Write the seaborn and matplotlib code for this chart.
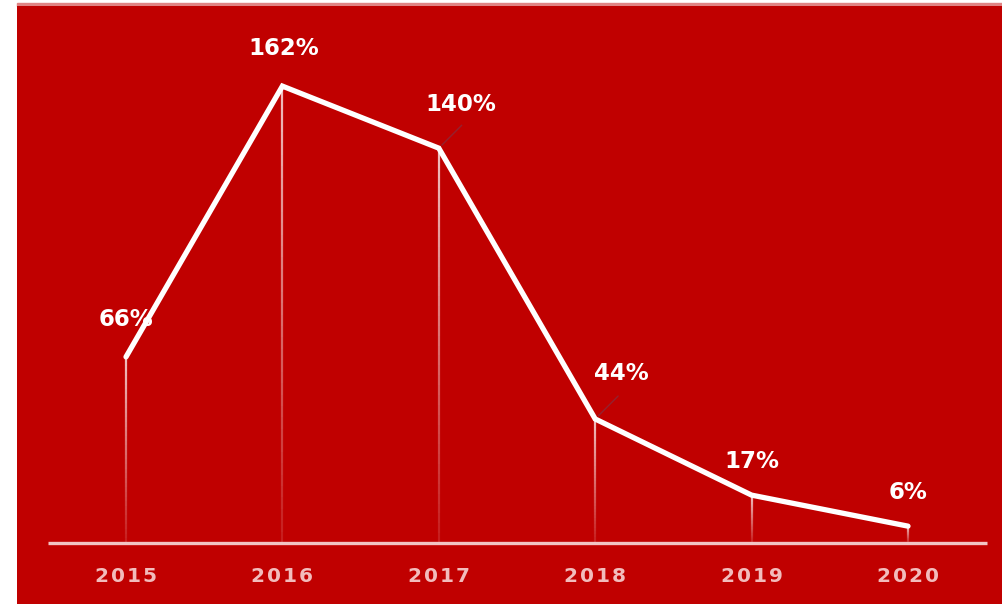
import numpy as np
import pandas as pd
import matplotlib
matplotlib.use("Agg")
import matplotlib.pyplot as plt
import seaborn as sns
from matplotlib.collections import LineCollection
from matplotlib.patches import Rectangle

years = ["2015", "2016", "2017", "2018", "2019", "2020"]
values = [66, 162, 140, 44, 17, 6]
labels = ["66%", "162%", "140%", "44%", "17%", "6%"]

RED = "#c00000"
sns.set_theme(style="white")
plt.rcParams['font.family'] = ['DejaVu Sans']

fig = plt.figure(figsize=(10.02, 6.04), dpi=100, facecolor="white")
fig.patches.append(Rectangle((17/1002, 598/604), 1 - 17/1002, 3/604, transform=fig.transFigure,
                             color="#e08484", zorder=-1))

ax = fig.add_axes([17/1002, 0, 1 - 17/1002, 598/604])
ax.set_facecolor(RED)
for s in ax.spines.values():
    s.set_visible(False)

x = np.arange(len(years))
df = pd.DataFrame({"x": x, "v": values})

# gradient drop lines
for xi, v in zip(x, values):
    n = 40
    ys = np.linspace(v, 0, n + 1)
    segs = [[(xi, ys[k]), (xi, ys[k + 1])] for k in range(n)]
    alphas = np.linspace(0.75, 0.12, n)
    cols = [(1, 1, 1, a) for a in alphas]
    ax.add_collection(LineCollection(segs, colors=cols, linewidths=1.6, zorder=2))

# baseline
ax.plot([-0.5, 5.505], [0, 0], color="#f2c4c4", lw=2.4, solid_capstyle="butt", zorder=3)

sns.lineplot(data=df, x="x", y="v", ax=ax, color="white", lw=3.8, zorder=4,
             solid_joinstyle="miter")
ax.set_xlabel(""); ax.set_ylabel("")
ax.set_xticks([]); ax.set_yticks([])
ax.set_xlim((17 - 126) / 156.4, (1002 - 126) / 156.4)
ax.set_ylim(-21.6, 190.4)

offsets = [(0, 27), (0.7, 27.4), (15.8, 31.7), (18.7, 32.4), (0, 24.5), (0, 24.5)]
for xi, v, lab, off in zip(x, values, labels, offsets):
    ax.annotate(lab, (xi, v), xytext=off, textcoords="offset points", ha="center", va="center",
                color="white", fontsize=16.5, fontweight="bold", zorder=5)

# leader lines
for idx in (2, 3):
    ax.annotate("", (x[idx], values[idx]), xytext=(16.5, 16.5), textcoords="offset points",
                arrowprops=dict(arrowstyle="-", color="#8a2a3a", lw=1.0, alpha=0.8,
                                shrinkA=0, shrinkB=3), zorder=3)

for xi, yr in zip(x, years):
    ax.text(xi, -12.0, "\u200a".join(yr), ha="center", va="center",
            color="#f2bcbc", fontsize=14.5, fontweight="bold", zorder=5)

fig.savefig("out.png", dpi=100, facecolor="white")
